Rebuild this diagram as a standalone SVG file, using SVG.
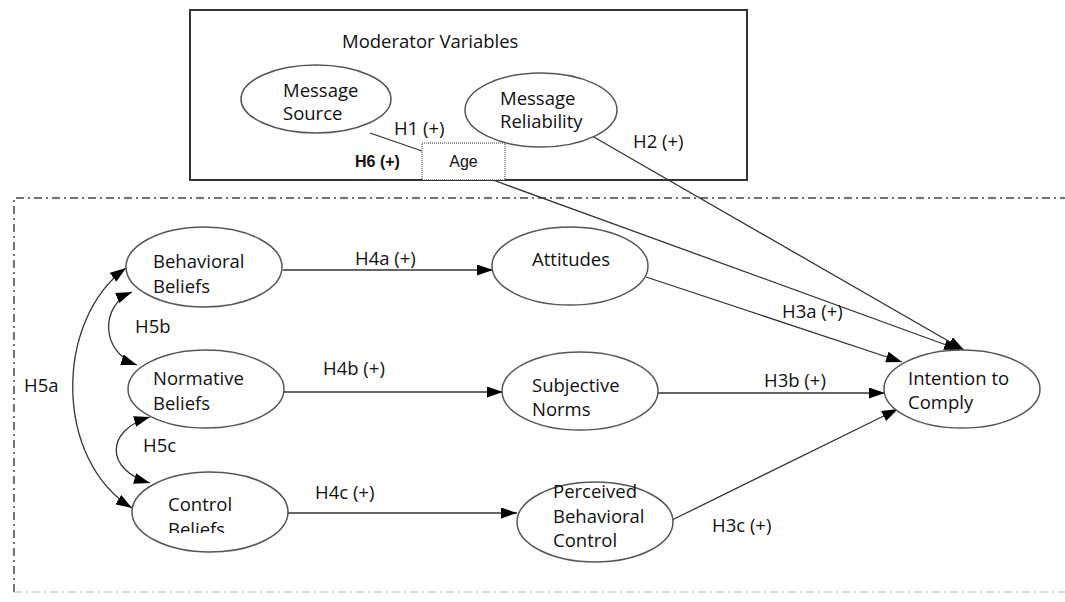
<svg xmlns="http://www.w3.org/2000/svg" width="1065" height="602" viewBox="0 0 1065 602">
<style>
.n{fill:#fff;stroke:#555;stroke-width:1.5}
.t{font-family:"Open Sans","DejaVu Sans",sans-serif;font-size:18.5px;fill:#111}
.a{font-family:"Liberation Sans",Arial,sans-serif;font-size:16px;fill:#111}
.c{fill:none;stroke:#333;stroke-width:1.3}
</style>
<defs>
<marker id="ah" viewBox="0 0 16 11" refX="16" refY="5.5" markerWidth="16" markerHeight="11" markerUnits="userSpaceOnUse" orient="auto-start-reverse">
<path d="M0,0 L16,5.5 L0,11 Z" fill="#000"/>
</marker>
<clipPath id="cb"><rect x="0" y="0" width="1065" height="533"/></clipPath>
</defs>
<rect width="1065" height="602" fill="#fff"/>
<g id="moderator-box">
<rect x="190" y="10" width="557" height="170" fill="none" stroke="#333" stroke-width="2"/>
<text class="t" x="342" y="48">Moderator Variables</text>
</g>
<g id="dashed-frame">
<path d="M14,592 V198 H1065" fill="none" stroke="#444" stroke-width="1.5" stroke-dasharray="8 4 2 4"/>
<path d="M14,592 H1065" fill="none" stroke="#bbb" stroke-width="1.2" stroke-dasharray="8 4 2 4"/>
</g>
<g id="connectors">
<path class="c" d="M370,133 L422,151"/>
<path class="c" d="M493,180 L960,350" marker-end="url(#ah)"/>
<path class="c" d="M592,136 L964,350" marker-end="url(#ah)"/>
<path class="c" d="M283,270 L493,270" marker-end="url(#ah)"/>
<path class="c" d="M283,392 L503,392" marker-end="url(#ah)"/>
<path class="c" d="M287,513 L517,513" marker-end="url(#ah)"/>
<path class="c" d="M646,277 L902,362" marker-end="url(#ah)"/>
<path class="c" d="M657,393 L885,393" marker-end="url(#ah)"/>
<path class="c" d="M672,520 L898,409" marker-end="url(#ah)"/>
<path class="c" d="M126,268 C54,320 54,460 132,508" marker-start="url(#ah)" marker-end="url(#ah)"/>
<path class="c" d="M132,292 C100,305 100,352 137,365" marker-start="url(#ah)" marker-end="url(#ah)"/>
<path class="c" d="M150,417 C105,430 105,470 150,483" marker-start="url(#ah)" marker-end="url(#ah)"/>
<text class="t" x="394" y="135">H1 (+)</text>
<text class="a" x="355" y="167" font-weight="bold">H6 (+)</text>
<text class="t" x="633" y="148">H2 (+)</text>
<text class="t" x="355" y="265">H4a (+)</text>
<text class="t" x="323" y="375">H4b (+)</text>
<text class="t" x="315" y="499">H4c (+)</text>
<text class="t" x="782" y="318">H3a (+)</text>
<text class="t" x="764" y="387">H3b (+)</text>
<text class="t" x="712" y="532">H3c (+)</text>
<text class="t" x="24" y="392">H5a</text>
<text class="t" x="135" y="333">H5b</text>
<text class="t" x="143" y="452">H5c</text>
</g>
<g id="message-source">
<ellipse class="n" cx="316" cy="99" rx="75" ry="34"/>
<text class="t" x="283" y="97">Message</text>
<text class="t" x="283" y="120">Source</text>
</g>
<g id="message-reliability">
<ellipse class="n" cx="541" cy="110" rx="76" ry="37"/>
<text class="t" x="500" y="105">Message</text>
<text class="t" x="500" y="128">Reliability</text>
</g>
<g id="age">
<rect x="422" y="143" width="83" height="37" fill="#fff" stroke="#333" stroke-width="1" stroke-dasharray="1 1"/>
<text class="a" x="463.5" y="167" text-anchor="middle">Age</text>
</g>
<g id="behavioral-beliefs">
<ellipse class="n" cx="204" cy="267" rx="78" ry="40"/>
<text class="t" x="153" y="268">Behavioral</text>
<text class="t" x="153" y="293">Beliefs</text>
</g>
<g id="normative-beliefs">
<ellipse class="n" cx="206" cy="389" rx="78" ry="39"/>
<text class="t" x="153" y="385">Normative</text>
<text class="t" x="153" y="410">Beliefs</text>
</g>
<g id="control-beliefs">
<ellipse class="n" cx="210" cy="512" rx="78" ry="40"/>
<text class="t" x="168" y="511">Control</text>
<text class="t" x="168" y="536" clip-path="url(#cb)">Beliefs</text>
</g>
<g id="attitudes">
<ellipse class="n" cx="570" cy="266" rx="78" ry="39"/>
<text class="t" x="532" y="266">Attitudes</text>
</g>
<g id="subjective-norms">
<ellipse class="n" cx="580" cy="391" rx="78" ry="39"/>
<text class="t" x="532" y="392">Subjective</text>
<text class="t" x="532" y="416">Norms</text>
</g>
<g id="perceived-behavioral-control">
<ellipse class="n" cx="595" cy="522" rx="78" ry="40"/>
<text class="t" x="553" y="498">Perceived</text>
<text class="t" x="553" y="523">Behavioral</text>
<text class="t" x="553" y="547">Control</text>
</g>
<g id="intention-to-comply">
<ellipse class="n" cx="962" cy="389" rx="78" ry="39"/>
<text class="t" x="908" y="385">Intention to</text>
<text class="t" x="908" y="409">Comply</text>
</g>
</svg>
